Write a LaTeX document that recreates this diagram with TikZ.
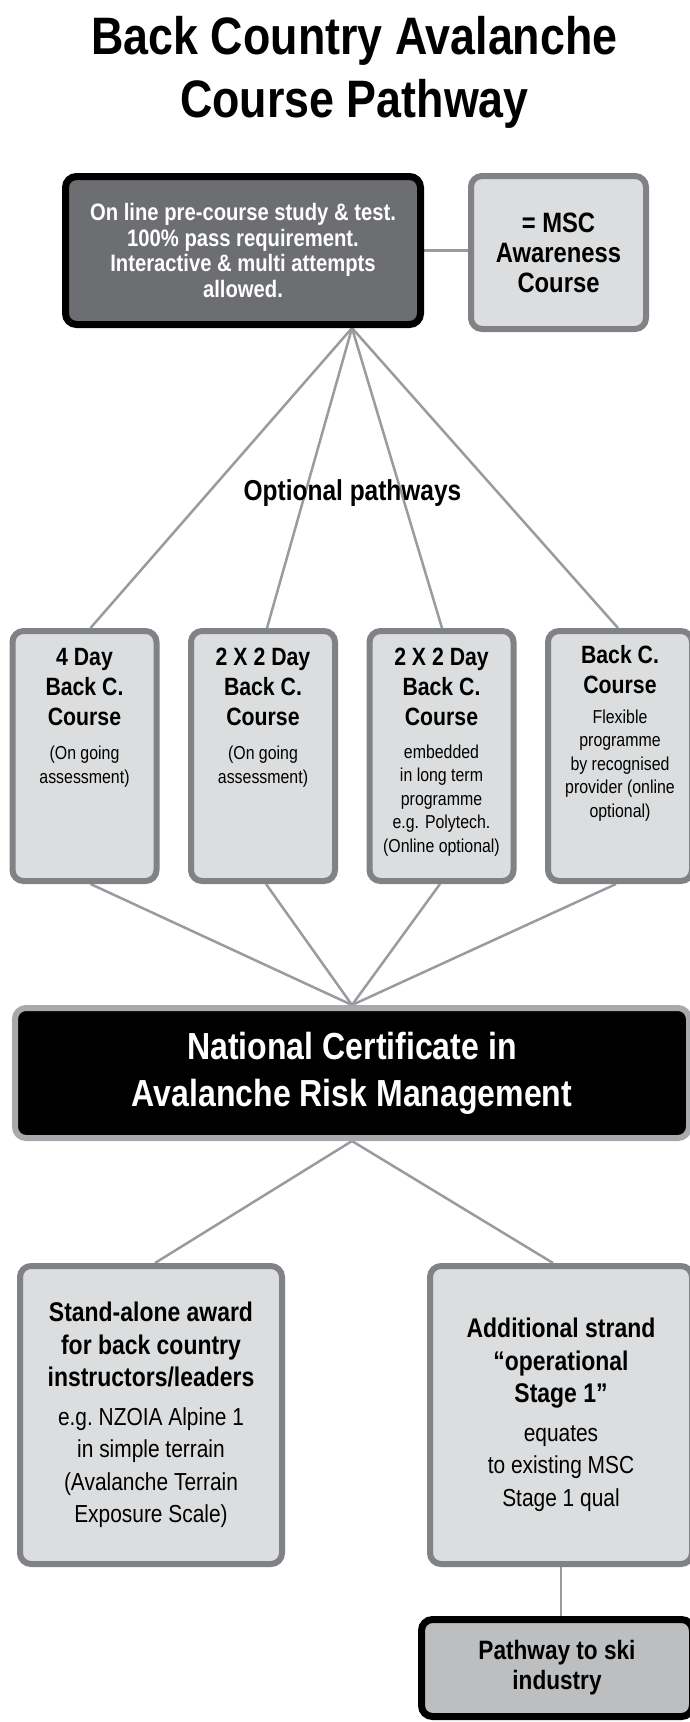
\documentclass[tikz,border=0pt]{standalone}
\usepackage{fontspec}
\setmainfont[FakeStretch=0.85]{Liberation Sans}
\usetikzlibrary{backgrounds,calc}
\definecolor{darkbox}{HTML}{6D6E71}
\definecolor{lightfill}{HTML}{DCDDDE}
\definecolor{boxedge}{HTML}{808285}
\definecolor{ncedge}{HTML}{A7A9AC}
\definecolor{pwfill}{HTML}{BCBEC0}
\definecolor{linkgray}{HTML}{999B9E}
\newcommand\fs[2]{\fontsize{#1}{#2}\selectfont}
\newcommand\natsp{\spaceskip=\fontdimen2\font\xspaceskip=\fontdimen2\font\relax}
\begin{document}
\begin{tikzpicture}[x=1pt,y=-1pt,
  boxbase/.style={rounded corners=11pt, inner sep=0pt, align=center},
  lightbox/.style={boxbase, draw=boxedge, fill=lightfill, line width=6pt},
  darkbox/.style={boxbase, draw=black, fill=darkbox, line width=7pt, text=white},
  ncbox/.style={boxbase, draw=ncedge, fill=black, line width=6pt, text=white},
  pwbox/.style={boxbase, draw=black, fill=pwfill, line width=7pt},
  link/.style={draw=linkgray, line width=2.5pt},
  titletext/.style={anchor=base, inner sep=0pt, font=\fs{52.7}{60}\bfseries}
]
\useasboundingbox (0,0) rectangle (690,1722);

% title
\node[titletext] (title1) at (354.5,54) {Back Country Avalanche};
\node[titletext] (title2) at (354.5,117) {Course Pathway};

% top row
\node[darkbox, minimum width=355, minimum height=148, text width=355pt,
      font=\fs{23.8}{25.5}\bfseries] (top) at (243,250.5)
  {\natsp On line pre-course study \& test.\\100\% pass requirement.\\Interactive \& multi attempts\\allowed.\par};
\node[lightbox, minimum width=175, minimum height=153, text width=175pt,
      font=\fs{28}{30}\bfseries] (msc) at (558.5,252.5)
  {\natsp = MSC\\Awareness\\Course\par};

\node[anchor=base, inner sep=0pt, font=\fs{28.8}{30}\bfseries] (opt) at (352.5,500) {Optional pathways};

% four course boxes
\node[lightbox, minimum width=144, minimum height=250] (b1) at (84.5,756)
  {\parbox[c][250pt][t]{144pt}{\centering\fs{25}{30}\bfseries\rule{0pt}{34pt}4 Day\\Back C.\\Course\par
   \fs{18.7}{23.5}\mdseries\vspace*{11pt}(On going\\assessment)\par}};
\node[lightbox, minimum width=144, minimum height=250] (b2) at (263,756)
  {\parbox[c][250pt][t]{144pt}{\centering\fs{25}{30}\bfseries\rule{0pt}{34pt}2 X 2 Day\\Back C.\\Course\par
   \fs{18.7}{23.5}\mdseries\vspace*{11pt}(On going\\assessment)\par}};
\node[lightbox, minimum width=144, minimum height=250] (b3) at (441.5,756)
  {\parbox[c][250pt][t]{144pt}{\centering\fs{25}{30}\bfseries\rule{0pt}{34pt}2 X 2 Day\\Back C.\\Course\par
   \fs{18.7}{23.5}\mdseries\vspace*{9.5pt}embedded\\in long term\\programme\\e.g. Polytech.\\(Online optional)\par}};
\node[lightbox, minimum width=144, minimum height=250] (b4) at (620,756)
  {\parbox[c][250pt][t]{144pt}{\centering\fs{25}{30}\bfseries\rule{0pt}{32pt}Back C.\\Course\par
   \fs{18.7}{23.5}\mdseries\vspace*{6.5pt}Flexible\\programme\\by recognised\\provider (online\\optional)\par}};

% national certificate
\node[ncbox, minimum width=674, minimum height=130, text width=674pt,
      font=\fs{37.7}{47}\bfseries] (nc) at (352,1073)
  {\natsp National Certificate in\\Avalanche Risk Management\par};

% bottom boxes
\node[lightbox, minimum width=262, minimum height=298, text width=262pt,
      font=\fs{27}{32.5}\bfseries] (bl) at (151,1415)
  {\natsp Stand-alone award\\for back country\\instructors/leaders\par
   \fs{24.6}{32.5}\mdseries\natsp\vspace*{6pt}e.g. NZOIA Alpine 1\\in simple terrain\\(Avalanche Terrain\\Exposure Scale)\par};
\node[lightbox, minimum width=262, minimum height=298, text width=262pt,
      font=\fs{27}{32.5}\bfseries] (br) at (561,1415)
  {\natsp Additional strand\\“operational\\Stage 1”\par
   \fs{24.6}{32.5}\mdseries\natsp\vspace*{6pt}equates\\to existing MSC\\Stage 1 qual\par};
\node[pwbox, minimum width=271, minimum height=97, text width=271pt,
      font=\fs{26.6}{30}\bfseries] (pw) at (557,1668)
  {\natsp Pathway to ski\\industry\par};

% connectors
\begin{scope}[on background layer]
  \coordinate (apex) at (top.south -| nc.north);
  \draw[link] (top.east) -- (top.east -| msc.west);
  \draw[link] (apex) -- ([xshift=6pt]b1.north);
  \draw[link] (apex) -- ([xshift=4pt]b2.north);
  \draw[link] (apex) -- ([xshift=0.5pt]b3.north);
  \draw[link] (apex) -- ([xshift=-2pt]b4.north);
  \draw[link] ([xshift=6pt]b1.south) -- (nc.north);
  \draw[link] ([xshift=3pt]b2.south) -- (nc.north);
  \draw[link] ([xshift=-1.5pt]b3.south) -- (nc.north);
  \draw[link] ([xshift=-4pt]b4.south) -- (nc.north);
  \draw[link] (nc.south) -- ([xshift=4pt]bl.north);
  \draw[link] (nc.south) -- ([xshift=-8pt]br.north);
  \draw[link] (br.south) -- (br.south |- pw.north);
\end{scope}
\end{tikzpicture}
\end{document}
